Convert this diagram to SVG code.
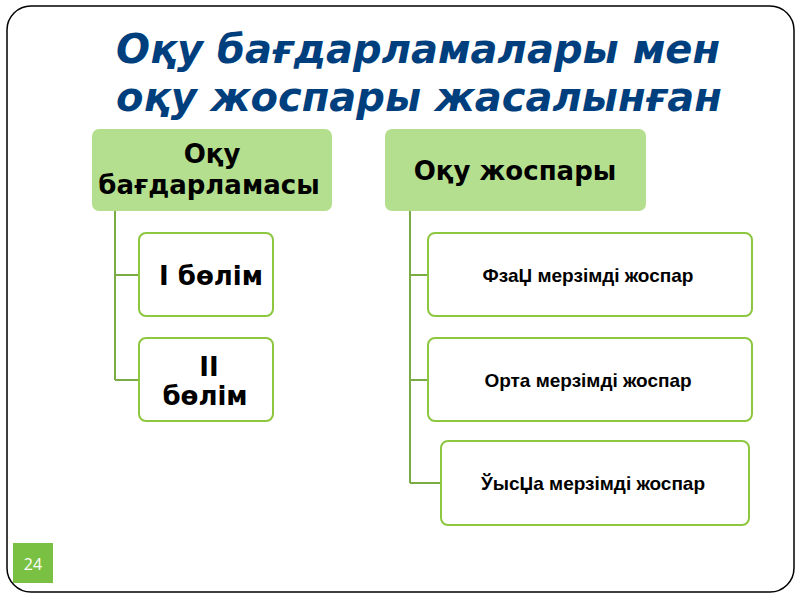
<svg xmlns="http://www.w3.org/2000/svg" width="800" height="600" viewBox="0 0 800 600">
<defs>
<style>
.frame{fill:#ffffff;stroke:#000000;stroke-width:1.5}
.head{fill:#b4df8e}
.box{fill:#ffffff;stroke:#8dc63f;stroke-width:2}
.conn{fill:none;stroke:#7aab45;stroke-width:2}
.title{font-family:"DejaVu Sans",sans-serif;font-weight:bold;font-style:oblique;font-size:40px;fill:#003f7e;text-anchor:middle}
.ht{font-family:"DejaVu Sans",sans-serif;font-weight:bold;font-size:26px;fill:#000000;text-anchor:middle}
.bt{font-family:"Liberation Sans",Arial,sans-serif;font-weight:bold;font-size:19px;fill:#000000;text-anchor:middle}
</style>
</defs>
<rect width="800" height="600" fill="#ffffff"/>
<rect class="frame" x="7" y="6" width="787" height="586" rx="24" ry="24"/>
<g id="title">
<text class="title" x="418" y="63">Оқу бағдарламалары мен</text>
<text class="title" x="419" y="111">оқу жоспары жасалынған</text>
</g>
<g id="connectors">
<path class="conn" d="M115 211 V380 M115 275 H139 M115 380 H139"/>
<path class="conn" d="M410 211 V483 M410 275 H428 M410 380 H428 M410 483 H441"/>
</g>
<g id="node-left-head">
<rect class="head" x="92" y="129" width="240" height="82" rx="7"/>
<text class="ht" x="212" y="163">Оқу</text>
<text class="ht" x="209" y="194">бағдарламасы</text>
</g>
<g id="node-bolim1">
<rect class="box" x="139" y="233" width="134" height="83" rx="7"/>
<text class="ht" x="211" y="285">I бөлім</text>
</g>
<g id="node-bolim2">
<rect class="box" x="139" y="338" width="134" height="83" rx="7"/>
<text class="ht" x="209" y="376">II</text>
<text class="ht" x="205" y="405">бөлім</text>
</g>
<g id="node-right-head">
<rect class="head" x="385" y="129" width="261" height="82" rx="7"/>
<text class="ht" x="515" y="180">Оқу жоспары</text>
</g>
<g id="node-plan1">
<rect class="box" x="428" y="233" width="324" height="83" rx="7"/>
<text class="bt" x="588" y="282">ФзаЏ мерзімді жоспар</text>
</g>
<g id="node-plan2">
<rect class="box" x="428" y="338" width="324" height="83" rx="7"/>
<text class="bt" x="588" y="387">Орта мерзімді жоспар</text>
</g>
<g id="node-plan3">
<rect class="box" x="441" y="441" width="308" height="84" rx="7"/>
<text class="bt" x="593" y="490">ЎысЏа мерзімді жоспар</text>
</g>
<g id="page-number">
<rect x="13" y="543" width="40" height="40" fill="#7ac143"/>
<text x="33" y="570" font-family="'Open Sans','DejaVu Sans',sans-serif" font-size="16" fill="#ffffff" text-anchor="middle">24</text>
</g>
</svg>
